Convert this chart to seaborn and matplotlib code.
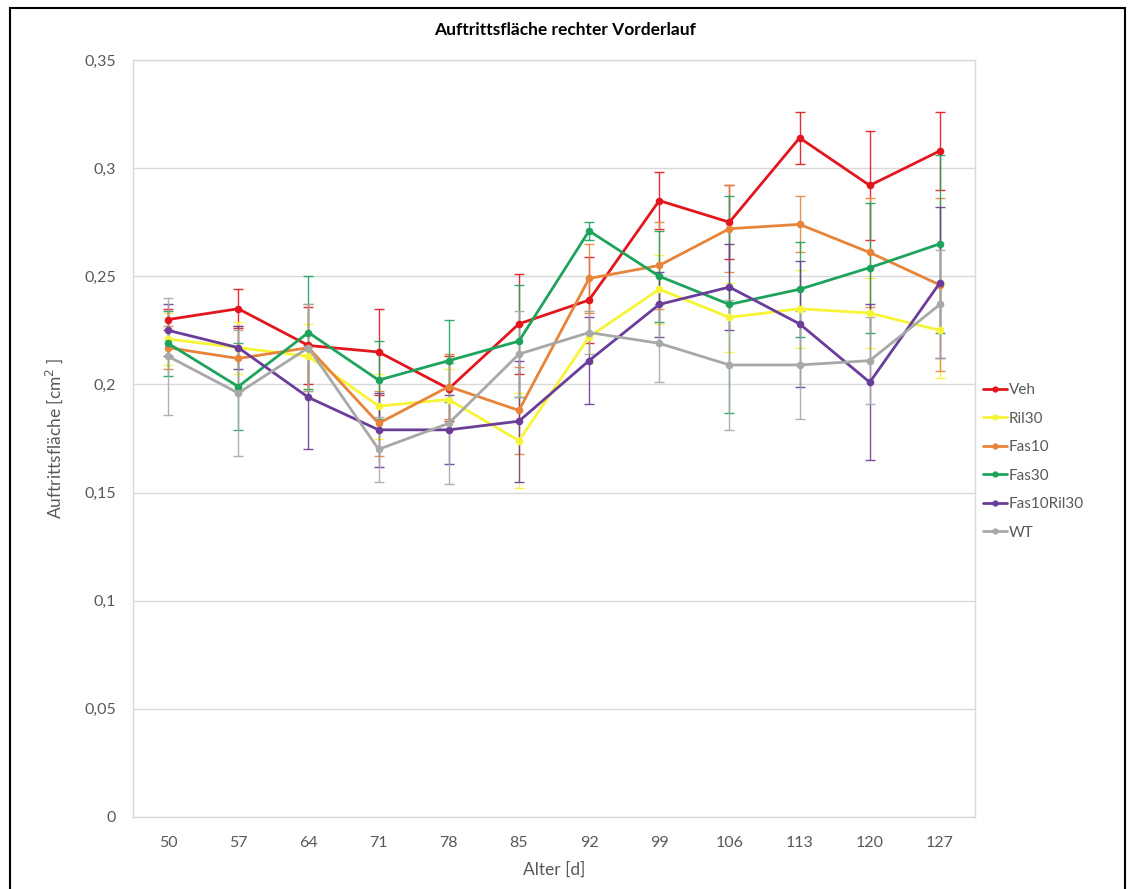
import numpy as np
import pandas as pd
import matplotlib
matplotlib.use("Agg")
import matplotlib.pyplot as plt
import seaborn as sns
from matplotlib.patches import Rectangle
from matplotlib.ticker import FuncFormatter

ages = ["50", "57", "64", "71", "78", "85", "92", "99", "106", "113", "120", "127"]
groups = ["Veh", "Ril30", "Fas10", "Fas30", "Fas10Ril30", "WT"]

veh = [0.230, 0.235, 0.218, 0.215, 0.198, 0.228, 0.239, 0.285, 0.275, 0.314, 0.292, 0.308]
ril30 = [0.221, 0.217, 0.213, 0.190, 0.193, 0.174, 0.222, 0.244, 0.231, 0.235, 0.233, 0.225]
fas10 = [0.217, 0.212, 0.217, 0.182, 0.199, 0.188, 0.249, 0.255, 0.272, 0.274, 0.261, 0.246]
fas30 = [0.219, 0.199, 0.224, 0.202, 0.211, 0.220, 0.271, 0.250, 0.237, 0.244, 0.254, 0.265]
fas10ril30 = [0.225, 0.217, 0.194, 0.179, 0.179, 0.183, 0.211, 0.237, 0.245, 0.228, 0.201, 0.247]
wt = [0.213, 0.196, 0.217, 0.170, 0.182, 0.214, 0.224, 0.219, 0.209, 0.209, 0.211, 0.237]

veh_err = [0.005, 0.009, 0.018, 0.020, 0.015, 0.023, 0.020, 0.013, 0.017, 0.012, 0.025, 0.018]
ril30_err = [0.012, 0.012, 0.015, 0.015, 0.014, 0.022, 0.012, 0.016, 0.016, 0.018, 0.016, 0.022]
fas10_err = [0.010, 0.015, 0.020, 0.015, 0.015, 0.020, 0.016, 0.020, 0.020, 0.013, 0.025, 0.040]
fas30_err = [0.015, 0.020, 0.026, 0.018, 0.019, 0.026, 0.004, 0.021, 0.050, 0.022, 0.030, 0.041]
fas10ril30_err = [0.012, 0.010, 0.024, 0.017, 0.016, 0.028, 0.020, 0.015, 0.020, 0.029, 0.036, 0.035]
wt_err = [0.027, 0.029, 0.020, 0.015, 0.028, 0.020, 0.010, 0.018, 0.030, 0.025, 0.020, 0.025]

values = [veh, ril30, fas10, fas30, fas10ril30, wt]
errors = [veh_err, ril30_err, fas10_err, fas30_err, fas10ril30_err, wt_err]
colors = ["#e3161d", "#f7f436", "#e8843a", "#1ea35c", "#6a3d9a", "#a8a8a8"]

rows = []
for g, vals in zip(groups, values):
    for a, v in zip(ages, vals):
        rows.append({"Alter": a, "Gruppe": g, "Wert": v})
df = pd.DataFrame(rows)

sns.set_theme(style="white")
plt.rcParams["font.family"] = ["Lato", "DejaVu Sans"]

fig = plt.figure(figsize=(11.29, 8.89), dpi=100)
ax = fig.add_axes([133 / 1129, 1 - 817 / 889, (975 - 133) / 1129, (817 - 60) / 889])

palette = dict(zip(groups, colors))
sns.lineplot(data=df, x="Alter", y="Wert", hue="Gruppe", hue_order=groups,
             palette=palette, marker="o", markersize=5.5, markeredgewidth=0,
             linewidth=2.0, ax=ax, legend=False, sort=False, zorder=3)

xpos = np.arange(len(ages))
for g, vals, errs, c in zip(groups, values, errors, colors):
    ax.errorbar(xpos, vals, yerr=errs, fmt="none", ecolor=c, elinewidth=1.0,
                capsize=3.5, capthick=1.0, zorder=2, alpha=0.9)

ax.set_xlim(-0.5, len(ages) - 0.5)
ax.set_ylim(0, 0.35)
ax.set_yticks(np.arange(0, 0.351, 0.05))
ax.yaxis.set_major_formatter(FuncFormatter(lambda v, p: ("%g" % round(v, 2)).replace(".", ",")))
ax.set_xticks(xpos)
ax.set_xticklabels(ages)
ax.grid(axis="y", color="#d9d9d9", linewidth=1.0)
ax.set_axisbelow(True)
for s in ax.spines.values():
    s.set_color("#d9d9d9")
    s.set_linewidth(1.0)
ax.tick_params(axis="both", length=0, labelsize=11.5, labelcolor="#595959")
ax.tick_params(axis="x", pad=14)
ax.tick_params(axis="y", pad=12)

ax.set_xlabel("Alter [d]", fontsize=12.5, color="#595959", labelpad=8)
ax.set_ylabel("Auftrittsfläche [cm$^2$ ]", fontsize=12.5, color="#595959", labelpad=14)
fig.text(565 / 1129, 1 - 30 / 889, "Auftrittsfläche rechter Vorderlauf", ha="center", va="center",
         fontsize=12.5, fontweight="bold", color="#000000")

handles = [plt.Line2D([], [], color=c, marker="o", markersize=3.5, linewidth=2.0) for c in colors]
leg = fig.legend(handles, groups, loc="upper left", bbox_to_anchor=(983 / 1129, 1 - 383 / 889),
                 frameon=False, fontsize=11, handlelength=1.6, handletextpad=0.1,
                 labelspacing=0.95, borderpad=0, borderaxespad=0)
for t in leg.get_texts():
    t.set_color("#595959")

fig.patches.append(Rectangle((10 / 1129, -0.05), (1125 - 10) / 1129, 1.05 - 8 / 889,
                             transform=fig.transFigure, fill=False, edgecolor="black",
                             linewidth=1.5, clip_on=False))

fig.savefig("out.png", dpi=100)
